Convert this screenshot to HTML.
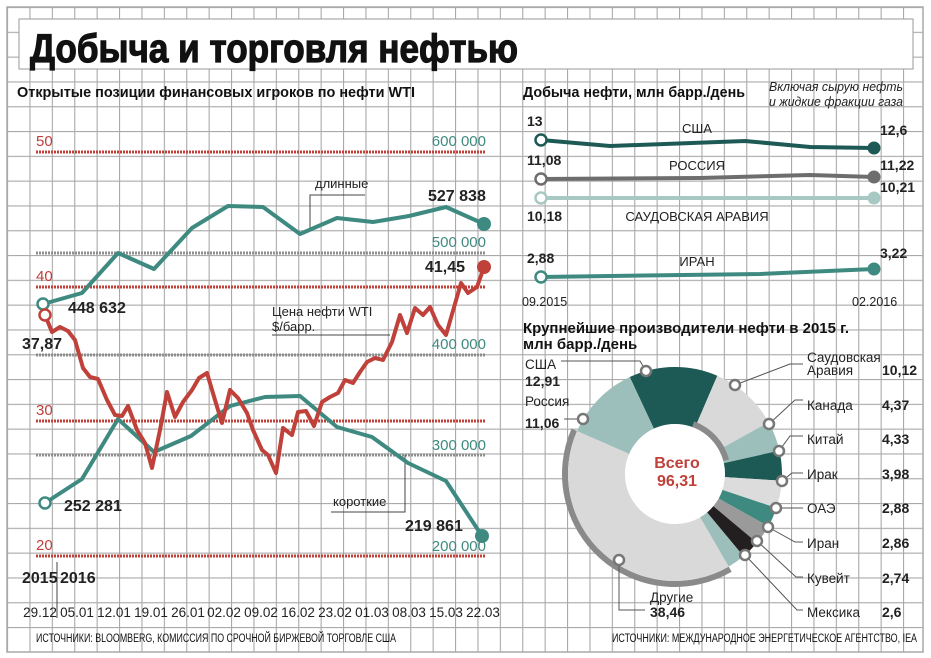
<!DOCTYPE html>
<html><head><meta charset="utf-8">
<style>
html,body{margin:0;padding:0;background:#fff}
svg{display:block}
text{font-family:"Liberation Sans",sans-serif}
</style></head>
<body>
<svg id="s" width="931" height="658" viewBox="0 0 931 658" xmlns="http://www.w3.org/2000/svg">
<defs>
<pattern id="g" x="7" y="7" width="22.4" height="24.8" patternUnits="userSpaceOnUse">
<path d="M0.5 0V24.8M0 0.5H22.4" stroke="#a9a9a9" stroke-width="1.2" fill="none"/>
</pattern>
</defs>
<rect x="0" y="0" width="931" height="658" fill="#fff"/>
<rect x="7" y="7" width="916" height="645" fill="url(#g)"/>
<rect x="7" y="7" width="916" height="645" fill="none" stroke="#a9a9a9" stroke-width="1.5"/>
<rect x="19" y="19" width="894" height="50" fill="#fff" stroke="#a9a9a9" stroke-width="1.2"/>
<text x="30" y="62" font-size="40" font-weight="bold" textLength="488" lengthAdjust="spacingAndGlyphs" fill="#111" stroke="#111" stroke-width="1.2">Добыча и торговля нефтью</text>

<text x="17" y="97" font-size="15" font-weight="bold" textLength="398" lengthAdjust="spacingAndGlyphs" fill="#111">Открытые позиции финансовых игроков по нефти WTI</text>

<g stroke-width="3" stroke-dasharray="2 1" fill="none">
<line x1="36" y1="152" x2="485" y2="152" stroke="#c0403a"/>
<line x1="36" y1="287" x2="485" y2="287" stroke="#c0403a"/>
<line x1="36" y1="421" x2="485" y2="421" stroke="#c0403a"/>
<line x1="36" y1="556" x2="485" y2="556" stroke="#c0403a"/>
<line x1="36" y1="253" x2="485" y2="253" stroke="#8e8e8e"/>
<line x1="36" y1="355" x2="485" y2="355" stroke="#8e8e8e"/>
<line x1="36" y1="455" x2="485" y2="455" stroke="#8e8e8e"/>
</g>
<g font-size="15" fill="#c0403a">
<text x="36" y="146">50</text><text x="36" y="281">40</text><text x="36" y="415">30</text><text x="36" y="550">20</text>
</g>
<g font-size="15" fill="#3e8a80" text-anchor="end">
<text x="486" y="146">600 000</text><text x="486" y="247">500 000</text><text x="486" y="349">400 000</text><text x="486" y="450">300 000</text><text x="486" y="551">200 000</text>
</g>
<g stroke="#444" stroke-width="1" fill="none">
<polyline points="310,229 310,195 365,195"/>
<polyline points="272,335 390,335"/>
<polyline points="331,512 405,512 405,455"/>
<line x1="57" y1="562" x2="57" y2="618"/>
</g>
<polyline fill="none" stroke="#3e8a80" stroke-width="4" stroke-linejoin="round" points="43,304 82,293 118,253 154,269 192,228 228,206 263,207 300,234 337,218 373,222 409,216 446,207 484,224"/>
<polyline fill="none" stroke="#3e8a80" stroke-width="4" stroke-linejoin="round" points="45,503 82,479 118,419 154,452 191,436 230,406 265,397 300,396 337,427 372,437 408,463 446,481 482,536"/>
<polyline fill="none" stroke="#c0403a" stroke-width="4" stroke-linejoin="round" points="45,315 52,332 60,327 68,331 75,340 83,368 90,377 98,379 107,400 115,415 122,416 128,406 137,430 145,443 152,468 160,430 167,392 175,417 183,402 192,390 199,378 207,373 215,400 222,423 230,390 238,398 247,413 253,430 262,450 268,455 276,473 283,428 292,435 298,412 306,411 314,426 322,402 330,397 338,393 345,380 353,383 360,372 367,362 375,358 383,360 392,342 400,315 407,333 415,308 423,315 430,307 438,325 446,335 461,283 468,293 477,287 484,267"/>
<circle cx="43" cy="304" r="5.5" fill="#fff" stroke="#3e8a80" stroke-width="2.5"/>
<circle cx="45" cy="503" r="5.5" fill="#fff" stroke="#3e8a80" stroke-width="2.5"/>
<circle cx="45" cy="315" r="5.5" fill="#fff" stroke="#c0403a" stroke-width="2.5"/>
<circle cx="484" cy="224" r="7" fill="#3e8a80"/>
<circle cx="482" cy="536" r="7" fill="#3e8a80"/>
<circle cx="484" cy="267" r="7" fill="#c0403a"/>
<g font-size="16" font-weight="bold" fill="#222">
<text x="68" y="313">448 632</text>
<text x="22" y="349">37,87</text>
<text x="64" y="511">252 281</text>
<text x="428" y="201">527 838</text>
<text x="425" y="272">41,45</text>
<text x="405" y="531">219 861</text>
<text x="22" y="583">2015</text>
<text x="60" y="583">2016</text>
</g>
<g font-size="13" fill="#222">
<text x="315" y="188">длинные</text>
<text x="272" y="316">Цена нефти WTI</text>
<text x="272" y="331">$/барр.</text>
<text x="333" y="506">короткие</text>
</g>
<g font-size="13.5" fill="#222" text-anchor="middle">
<text x="40" y="617">29.12</text><text x="77" y="617">05.01</text><text x="114" y="617">12.01</text><text x="151" y="617">19.01</text><text x="188" y="617">26.01</text><text x="224" y="617">02.02</text><text x="261" y="617">09.02</text><text x="298" y="617">16.02</text><text x="335" y="617">23.02</text><text x="372" y="617">01.03</text><text x="409" y="617">08.03</text><text x="446" y="617">15.03</text><text x="483" y="617">22.03</text>
</g>
<text x="36" y="642" font-size="11.5" fill="#111" textLength="360" lengthAdjust="spacingAndGlyphs">ИСТОЧНИКИ: BLOOMBERG, КОМИССИЯ ПО СРОЧНОЙ БИРЖЕВОЙ ТОРГОВЛЕ США</text>

<text x="523" y="97" font-size="15" font-weight="bold" fill="#111" textLength="222" lengthAdjust="spacingAndGlyphs">Добыча нефти, млн барр./день</text>
<text x="769" y="91" font-size="12.5" font-style="italic" fill="#222" textLength="134" lengthAdjust="spacingAndGlyphs">Включая сырую нефть</text>
<text x="769" y="106" font-size="12.5" font-style="italic" fill="#222" textLength="134" lengthAdjust="spacingAndGlyphs">и жидкие фракции газа</text>
<polyline fill="none" stroke="#1e5a55" stroke-width="4" points="541,140 610,146 745,141 810,147 874,148"/>
<polyline fill="none" stroke="#6d6d6d" stroke-width="4" points="541,179 700,178 810,175 874,177"/>
<polyline fill="none" stroke="#a8c8c4" stroke-width="4" points="541,198 874,198"/>
<polyline fill="none" stroke="#3e8a80" stroke-width="4" points="541,277 610,276 760,274 874,269"/>
<circle cx="541" cy="140" r="5.5" fill="#fff" stroke="#1e5a55" stroke-width="2.5"/>
<circle cx="541" cy="179" r="5.5" fill="#fff" stroke="#6d6d6d" stroke-width="2.5"/>
<circle cx="541" cy="198" r="5.5" fill="#fff" stroke="#a8c8c4" stroke-width="2.5"/>
<circle cx="541" cy="277" r="5.5" fill="#fff" stroke="#3e8a80" stroke-width="2.5"/>
<circle cx="874" cy="148" r="6.5" fill="#1e5a55"/>
<circle cx="874" cy="177" r="6.5" fill="#6d6d6d"/>
<circle cx="874" cy="198" r="6.5" fill="#a8c8c4"/>
<circle cx="874" cy="269" r="6.5" fill="#3e8a80"/>
<g font-size="14" font-weight="bold" fill="#222">
<text x="527" y="126">13</text><text x="527" y="165">11,08</text><text x="527" y="221">10,18</text><text x="527" y="263">2,88</text>
<text x="880" y="135">12,6</text><text x="880" y="170">11,22</text><text x="880" y="192">10,21</text><text x="880" y="258">3,22</text>
</g>
<g font-size="13" fill="#222" text-anchor="middle">
<text x="697" y="133">США</text><text x="697" y="170">РОССИЯ</text><text x="697" y="221">САУДОВСКАЯ АРАВИЯ</text><text x="697" y="266">ИРАН</text>
</g>
<text x="522" y="306" font-size="12.5" fill="#222">09.2015</text>
<text x="852" y="306" font-size="12.5" fill="#222">02.2016</text>

<text x="523" y="333" font-size="15" font-weight="bold" fill="#111" textLength="326" lengthAdjust="spacingAndGlyphs">Крупнейшие производители нефти в 2015 г.</text>
<text x="523" y="349" font-size="15" font-weight="bold" fill="#111">млн барр./день</text>
<g id="donut"></g>
<g stroke="#555" stroke-width="1" fill="none">
<polyline points="561,361 640,361 646,371"/>
<polyline points="735,385 790,364 803,364"/>
<polyline points="769,424 795,400 803,400"/>
<polyline points="779,451 790,436 803,436"/>
<polyline points="782,481 792,473 803,473"/>
<polyline points="776,508 803,508"/>
<polyline points="768,527 795,542 803,542"/>
<polyline points="757,541 796,577 803,577"/>
<polyline points="745,555 797,610 803,610"/>
<polyline points="619,560 619,610 645,610"/>
<polyline points="564,419 583,419"/>
</g>
<g fill="#fff" stroke="#777" stroke-width="2.5">
<circle cx="646" cy="371" r="5"/><circle cx="735" cy="385" r="5"/><circle cx="769" cy="424" r="5"/><circle cx="779" cy="451" r="5"/><circle cx="782" cy="481" r="5"/><circle cx="776" cy="508" r="5"/><circle cx="768" cy="527" r="5"/><circle cx="757" cy="541" r="5"/><circle cx="745" cy="555" r="5"/><circle cx="619" cy="560" r="5"/><circle cx="583" cy="419" r="5"/>
</g>
<text x="677" y="468" font-size="16" font-weight="bold" fill="#c0403a" text-anchor="middle">Всего</text>
<text x="677" y="486" font-size="16" font-weight="bold" fill="#c0403a" text-anchor="middle">96,31</text>
<g font-size="13.5" fill="#222">
<text x="525" y="369">США</text><text x="525" y="406">Россия</text>
<text x="650" y="602">Другие</text>
<text x="807" y="362">Саудовская</text><text x="807" y="375">Аравия</text>
<text x="807" y="410">Канада</text><text x="807" y="444">Китай</text><text x="807" y="479">Ирак</text><text x="807" y="513">ОАЭ</text><text x="807" y="548">Иран</text><text x="807" y="583">Кувейт</text><text x="807" y="617">Мексика</text>
</g>
<g font-size="14" font-weight="bold" fill="#222">
<text x="525" y="386">12,91</text><text x="525" y="428">11,06</text><text x="650" y="617">38,46</text>
<text x="882" y="375">10,12</text><text x="882" y="410">4,37</text><text x="882" y="444">4,33</text><text x="882" y="479">3,98</text><text x="882" y="513">2,88</text><text x="882" y="548">2,86</text><text x="882" y="583">2,74</text><text x="882" y="617">2,6</text>
</g>
<text x="612" y="642" font-size="11.5" fill="#111" textLength="305" lengthAdjust="spacingAndGlyphs">ИСТОЧНИКИ: МЕЖДУНАРОДНОЕ ЭНЕРГЕТИЧЕСКОЕ АГЕНТСТВО, IEA</text>
</svg>
<script>
(function(){
var cx=675,cy=474,R=107,r=50;
var b=[-25,23.3,61.1,77.4,93.6,108.5,119.3,130,140.2,149.9,293.7,335];
var c=["#1e5a55","#d9d9d9","#9dbfbb","#1e5a55","#dcdcdc","#3e8a80","#9a9a9a","#231f20","#9dbfbb","#d9d9d9","#9dbfbb"];
function p(a,rr){var t=a*Math.PI/180;return (cx+rr*Math.sin(t)).toFixed(2)+","+(cy-rr*Math.cos(t)).toFixed(2);}
var g=document.getElementById("donut"),h="";
h+='<path d="M'+p(149.9,R+3)+' A'+(R+3)+','+(R+3)+' 0 0 1 '+p(293.7,R+3)+'" fill="none" stroke="#8a8a8a" stroke-width="6"/>';
for(var i=0;i<c.length;i++){
var a0=b[i],a1=b[i+1],lg=(a1-a0)>180?1:0;
h+='<path d="M'+p(a0,R)+' A'+R+','+R+' 0 '+lg+' 1 '+p(a1,R)+' L'+p(a1,r)+' A'+r+','+r+' 0 '+lg+' 0 '+p(a0,r)+' Z" fill="'+c[i]+'"/>';
}
h+='<path d="M'+p(20,r+3)+' A'+(r+3)+','+(r+3)+' 0 0 1 '+p(75,r+3)+'" fill="none" stroke="#8a8a8a" stroke-width="6"/>';
h+='<circle cx="'+cx+'" cy="'+cy+'" r="'+r+'" fill="#fff"/>';
g.innerHTML=h;
})();
</script>
</body></html>
